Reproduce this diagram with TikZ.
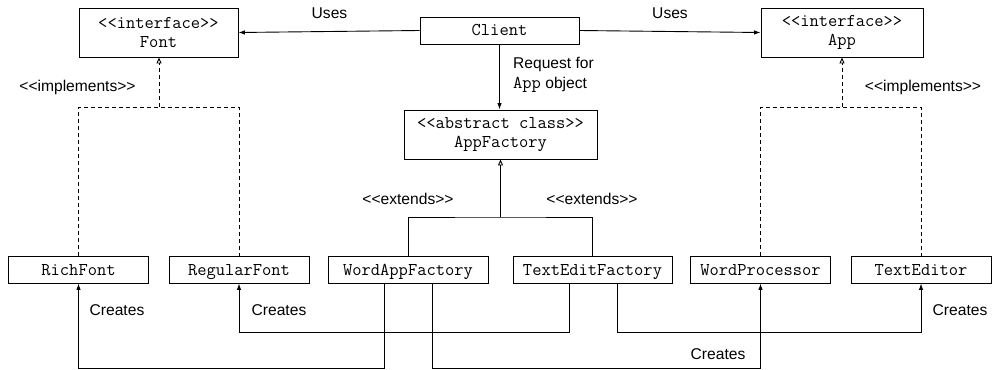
\documentclass[tikz,border=0pt]{standalone}
\usepackage{fontspec}
\setmainfont{Liberation Sans}[Ligatures=TeXOff]
\setmonofont{Latin Modern Mono}[Ligatures=TeXOff]
\usetikzlibrary{arrows.meta,calc}
\begin{document}
\begin{tikzpicture}[x=1pt,y=-1pt,
  box/.style={draw,line width=0.9pt,inner sep=0pt,font=\ttfamily\fontsize{18}{19}\selectfont,align=center,minimum height=27pt},
  oneline/.style={box,text height=11pt,text depth=0pt},
  tall/.style={minimum height=49pt},
  lbl/.style={font=\fontsize{15.6}{20}\selectfont,inner sep=0pt},
  ln/.style={line width=0.9pt},
  arr/.style={ln,-{Latex[length=6.5pt,width=4.5pt]}},
  inh/.style={ln,-{Triangle[open,length=6pt,width=5pt]}},
  dsh/.style={dash pattern=on 4pt off 3pt}
]
\useasboundingbox (0,0) rectangle (992,369);

% top row
\node[box,tall,minimum width=159pt] (font) at (158.5,32.5) {<<interface>>\\Font};
\node[oneline,minimum width=159pt] (client) at (499.5,30.5) {Client};
\node[box,tall,minimum width=162pt] (app) at (842,32.5) {<<interface>>\\App};
\node[box,tall,minimum width=193pt] (af) at (500.5,134.5) {<<abstract class>>\\AppFactory};

% bottom row
\node[oneline,minimum width=140pt] (rich) at (78.5,269.5) {RichFont};
\node[oneline,minimum width=140pt] (reg) at (239,269.5) {RegularFont};
\node[oneline,minimum width=160pt] (wf) at (408,269.5) {WordAppFactory};
\node[oneline,minimum width=159pt] (tf) at (592.5,269.5) {TextEditFactory};
\node[oneline,minimum width=140pt] (wp) at (760.5,269.5) {WordProcessor};
\node[oneline,minimum width=140pt] (te) at (921,269.5) {TextEditor};

% uses
\draw[arr] (client.west) -- (font.east);
\draw[arr] (client.east) -- (app.west);
\node[lbl] (usesL) at (329.5,13.5) {Uses};
\node[lbl] (usesR) at (670,13.5) {Uses};

% request
\draw[arr] (client.south -| af.north) ++(-1,0) coordinate (rq) -- (rq |- af.north);
\node[lbl,anchor=west,align=left] (req) at (513,75) {Request for\\{\ttfamily\fontsize{18}{20}\selectfont App} object};

% implements font
\coordinate (fj) at (159,107);
\draw[ln,dsh] (rich.north) |- (fj) -| (reg.north);
\draw[inh,dsh] (fj) -- (fj |- font.south);
\node[lbl] (implL) at (77.5,87) {<<implements>>};

% implements app
\coordinate (aj) at (842,107);
\draw[ln,dsh] (wp.north) |- (aj) -| (te.north);
\draw[inh,dsh] (aj) -- (aj |- app.south);
\node[lbl] (implR) at (923,87) {<<implements>>};

% extends
\coordinate (ej) at (500.5,217);
\draw[ln] (wf.north) |- (ej) -| (tf.north);
\draw[inh] (ej) -- (ej |- af.south);
\node[lbl] (extL) at (408,199) {<<extends>>};
\node[lbl] (extR) at (592,199) {<<extends>>};

% creates
\draw[arr] ([xshift=-24pt]wf.south) -- ++(0,84.5) -| (rich.south);
\draw[arr] ([xshift=-23.5pt]tf.south) -- ++(0,49) -| (reg.south);
\draw[arr] ([xshift=24pt]wf.south) -- ++(0,84.5) -| (wp.south);
\draw[arr] ([xshift=24.5pt]tf.south) -- ++(0,49) -| (te.south);
\node[lbl] (cr1) at (117,310) {Creates};
\node[lbl] (cr2) at (279,310) {Creates};
\node[lbl] (cr3) at (718,354) {Creates};
\node[lbl] (cr4) at (960,310) {Creates};
\end{tikzpicture}
\end{document}
